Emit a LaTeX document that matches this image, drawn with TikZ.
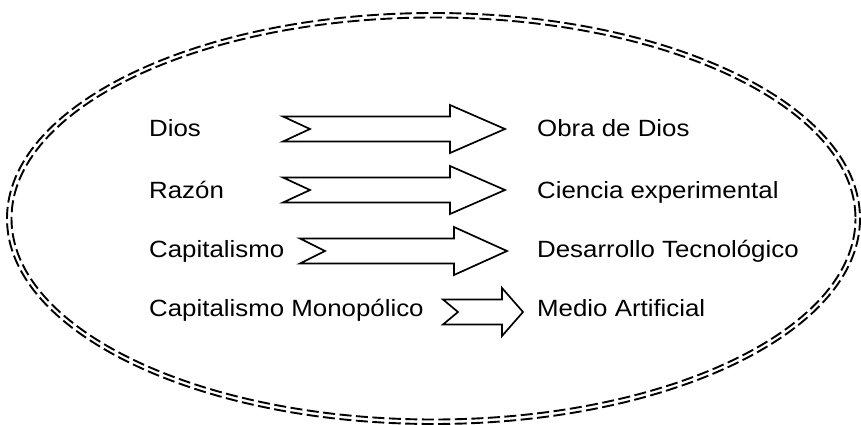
\documentclass[tikz,border=0pt]{standalone}
\usepackage{fontspec}
\setmainfont{Liberation Sans}[FakeStretch=1.1]
\tikzset{
    lbl/.style={anchor=base west, inner sep=0pt, font=\fontsize{23.5}{27}\selectfont},
    blockarrow/.style={draw, line width=1.7pt, fill=white, line join=miter},
    rim/.style={line width=1.9pt, dash pattern=on 12pt off 4.5pt}
}
% tail x, notch x, head base x, tip x, centre y
\newcommand{\notcharrow}[5]{%
    \draw[blockarrow] (#1,#5-12.5) -- (#3,#5-12.5) -- (#3,#5-24) -- (#4,#5)
        -- (#3,#5+24) -- (#3,#5+12.5) -- (#1,#5+12.5) -- (#2,#5) -- cycle;}
\begin{document}
\begin{tikzpicture}[x=1pt, y=-1pt]
        \useasboundingbox (0,0) rectangle (861,425);
        \draw[rim] (433.5,218.5) ellipse [x radius=426.5, y radius=205.5];
        \draw[rim, dash phase=7pt] (433.5,218.5) ellipse [x radius=422, y radius=201];
        \node[lbl] (dios) at (149,136) {Dios};
        \node[lbl] (razon) at (149,198) {Razón};
        \node[lbl] (capital) at (149,257) {Capitalismo};
        \node[lbl] (monop) at (149,316) {Capitalismo Monopólico};
        \node[lbl] (obra) at (537,136) {Obra de Dios};
        \node[lbl] (ciencia) at (537,198) {Ciencia experimental};
        \node[lbl] (desarrollo) at (537,257) {Desarrollo Tecnológico};
        \node[lbl] (medio) at (537,316) {Medio Artificial};
        \notcharrow{283}{310}{450}{505}{129}
        \notcharrow{283}{310}{450}{505}{190}
        \notcharrow{300}{325}{454}{507}{251}
        \notcharrow{443}{458}{502}{523}{312}
    \end{tikzpicture}
\end{document}
